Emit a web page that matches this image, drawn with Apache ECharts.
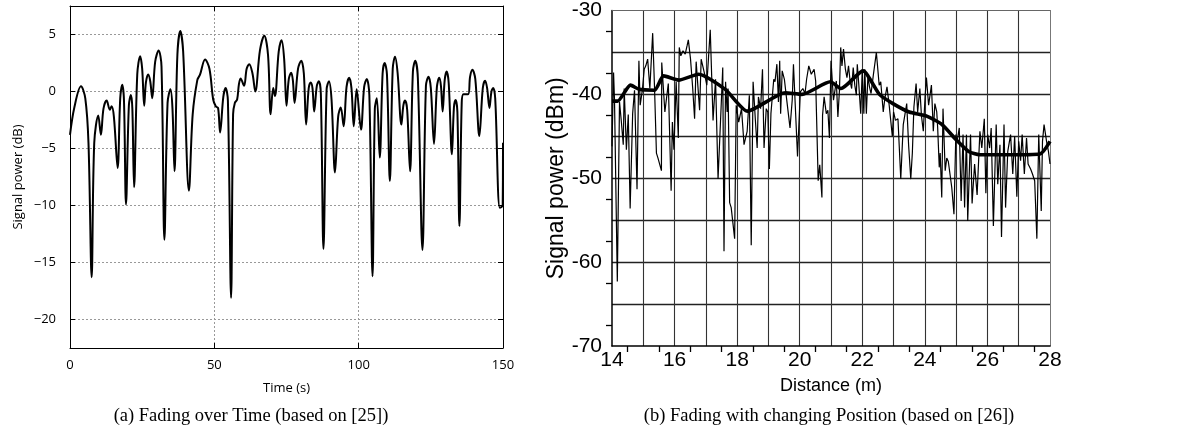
<!DOCTYPE html>
<html>
<head>
<meta charset="utf-8">
<script src="https://cdn.jsdelivr.net/npm/echarts@6/dist/echarts.min.js"></script>
<style>
html,body{margin:0;padding:0;background:#fff;}
#c{width:1191px;height:444px;}
</style>
</head>
<body>
<div id="c"></div>
<script>
// ---- (a) Fading over time ----
const timeS = [0,1.5,3.8,5.3,6.4,7.5,8.4,9.8,10.7,11.6,12.7,13.8,14.4,15.2,16.5,17.4,18.1,18.7,19.4,20.4,21.1,21.6,22.2,23.3,24.3,25.0,25.7,26.3,27.1,27.8,28.5,29.5,30.7,31.7,32.7,33.8,34.8,35.5,36.2,37.2,38.2,39.2,41.2,42.5,44.1,45.0,46.8,48.3,49.6,50.5,51.3,52.0,53.1,53.9,54.7,55.8,56.5,57.1,57.9,58.5,59.1,60.3,61.2,62.1,63.2,64.2,65.8,67.3,68.6,69.5,70.4,71.0,72.3,73.3,74.2,75.0,75.8,76.6,77.2,77.8,79.0,80.1,81.0,81.8,82.7,83.4,84.0,84.6,85.5,86.2,86.9,87.8,88.9,89.7,90.6,91.8,92.9,93.8,94.8,95.8,96.7,97.5,98.3,99.3,100.8,101.9,102.8,103.7,104.8,105.6,106.3,107.3,108.3,109.0,109.8,110.8,111.8,112.6,113.5,114.8,115.5,116.1,116.8,117.8,118.8,119.6,120.5,122.1,123.3,124.2,125.0,126.1,127.1,127.9,128.5,129.1,129.8,130.5,131.2,132.3,133.0,133.6,134.2,134.9,135.7,136.3,137.9,138.6,139.4,140.4,141.8,143.0,143.8,144.5,145.3,146.0,146.6,147.3,148.9,149.9,150];
const powerDb = [-3.8,-1.4,0.45,-0.6,-4.5,-16.3,-4.5,-2.1,-3.8,-1.5,-0.8,-1.6,-1.3,-2.2,-6.7,-0.6,0.6,-0.8,-9.9,-1.2,-0.3,-1.5,-8.4,1.5,3.1,2.0,-1.25,0.8,1.5,0.9,-0.6,2.6,3.6,2.2,-13.0,-1.0,0.2,-1.5,-7.0,3.2,5.3,3.5,-8.7,-2.0,1.0,1.45,2.8,2.0,-0.7,-1.3,-1.45,-3.6,-0.5,0.3,-0.8,-18.1,-2.0,-1.0,-0.7,0.6,1.15,0.5,2.0,2.4,1.6,0,3.6,4.9,3.2,-2.0,0.3,-0.4,3.5,4.5,2.8,-1.25,1.1,1.65,1.0,-1.0,2.0,2.7,1.6,-2.9,0.3,0.8,0.3,-1.75,0.5,0.9,-0.2,-13.8,0.2,0.9,-0.7,-7.1,-2.2,-1.4,-3.05,0.4,1.2,0.3,-3.05,0.2,-3.35,0.4,1.1,-0.3,-16.2,-1.5,-0.6,-5.8,1.6,2.5,1.5,-7.85,2.0,3.05,1.6,-2.9,-1.2,-0.8,-1.6,-7.0,1.8,2.7,1.2,-13.9,0.5,1.3,0.3,-4.6,0.4,1.2,0.5,-1.75,1.0,1.75,0.7,-5.5,-1.4,-0.75,-1.8,-11.8,-1.0,-0.25,-0.25,1.3,1.9,1.1,-3.9,0.3,0.95,0.3,-1.45,0.0,0.3,-0.6,-10.2,-10.0,-4.5];
const timeTicks = [0, 50, 100, 150];

// ---- (b) Fading with changing position ----
const distM = [14.00,14.05,14.08,14.17,14.24,14.30,14.36,14.39,14.46,14.52,14.58,14.66,14.72,14.80,14.86,14.90,14.97,15.03,15.08,15.14,15.21,15.30,15.36,15.42,15.47,15.58,15.59,15.69,15.80,15.89,15.93,15.98,16.05,16.12,16.15,16.20,16.27,16.34,16.40,16.44,16.51,16.58,16.64,16.69,16.80,16.85,16.95,17.03,17.14,17.23,17.31,17.39,17.49,17.54,17.58,17.63,17.68,17.71,17.76,17.81,17.92,17.97,18.05,18.14,18.22,18.32,18.39,18.45,18.51,18.58,18.64,18.68,18.75,18.81,18.86,18.93,18.98,19.03,19.08,19.17,19.21,19.27,19.32,19.36,19.39,19.44,19.51,19.58,19.69,19.76,19.80,19.86,19.93,20.02,20.10,20.17,20.22,20.29,20.37,20.46,20.51,20.59,20.64,20.71,20.73,20.78,20.85,20.90,20.95,21.00,21.08,21.17,21.22,21.27,21.31,21.35,21.40,21.46,21.51,21.56,21.61,21.66,21.71,21.76,21.81,21.84,21.89,21.95,22.00,22.05,22.08,22.13,22.18,22.23,22.28,22.35,22.45,22.54,22.59,22.67,22.72,22.79,22.86,22.96,23.00,23.06,23.14,23.23,23.31,23.42,23.48,23.55,23.60,23.65,23.72,23.77,23.84,23.89,23.95,24.01,24.05,24.12,24.21,24.27,24.32,24.38,24.41,24.46,24.49,24.54,24.58,24.61,24.65,24.70,24.75,24.86,24.93,24.99,25.03,25.10,25.16,25.22,25.27,25.33,25.37,25.46,25.51,25.59,25.67,25.76,25.82,25.90,25.95,26.01,26.07,26.12,26.19,26.28,26.33,26.40,26.45,26.53,26.58,26.65,26.74,26.81,26.87,26.94,27.00,27.06,27.11,27.18,27.25,27.30,27.38,27.44,27.51,27.58,27.64,27.72,27.76,27.81,27.89,27.95,28.00];
const powerDbm = [-46.2,-37.4,-40.7,-62.3,-40.9,-43.3,-46.0,-39.3,-46.6,-42.4,-53.6,-42.3,-39.5,-51.3,-36.0,-41.3,-39.5,-37.0,-36.6,-35.8,-39.3,-32.7,-39.3,-47.0,-47.6,-49.1,-36.2,-42.1,-38.7,-51.5,-43.3,-46.6,-38.5,-45.2,-34.4,-35.4,-34.8,-35.2,-34.2,-33.5,-35.8,-39.3,-42.9,-36.1,-41.9,-35.8,-37.4,-38.9,-32.3,-43.1,-38.2,-50.1,-41.3,-36.8,-58.7,-38.5,-42.1,-39.3,-52.9,-53.5,-57.2,-41.3,-43.3,-41.7,-46.0,-44.4,-40.1,-58.0,-38.5,-42.9,-46.4,-40.3,-41.7,-37.0,-46.4,-41.7,-42.1,-48.9,-42.3,-38.2,-38.5,-36.4,-40.9,-36.0,-42.3,-37.2,-38.2,-40.5,-44.0,-40.7,-36.4,-41.5,-47.4,-39.7,-39.3,-39.9,-38.2,-36.6,-37.6,-37.0,-38.4,-50.3,-48.4,-52.3,-42.5,-40.3,-42.3,-41.9,-45.2,-36.0,-40.7,-38.4,-42.7,-39.5,-34.4,-36.6,-34.6,-37.0,-38.0,-36.6,-38.4,-39.3,-36.8,-38.9,-40.1,-36.4,-38.9,-42.3,-37.0,-42.3,-37.0,-42.3,-37.8,-39.1,-39.9,-37.8,-35.0,-38.9,-38.5,-42.1,-40.5,-39.1,-41.3,-45.0,-42.1,-43.1,-42.9,-50.1,-43.6,-41.1,-46.0,-50.1,-47.0,-41.5,-38.7,-42.1,-39.3,-42.5,-44.4,-40.1,-38.0,-41.3,-38.9,-44.4,-41.1,-42.1,-44.0,-48.7,-47.0,-52.3,-41.7,-41.5,-49.1,-47.6,-48.0,-51.1,-54.3,-44.8,-45.6,-44.0,-52.7,-44.8,-53.5,-44.8,-55.1,-44.8,-53.0,-48.3,-52.0,-44.4,-46.4,-42.9,-51.8,-44.8,-46.4,-44.0,-55.7,-43.6,-50.7,-46.0,-57.0,-43.6,-53.5,-46.8,-44.8,-49.5,-45.0,-52.2,-45.6,-47.9,-44.8,-49.5,-45.2,-48.3,-48.9,-49.5,-50.3,-57.2,-44.8,-53.9,-45.6,-43.6,-45.6,-46.8,-48.3];
const avgDistM = [14.0,14.18,14.59,14.87,15.36,15.65,16.13,16.77,17.62,18.33,19.54,20.07,20.98,21.32,22.02,22.55,22.98,23.5,24.06,24.55,25.0,25.4,25.75,26.62,27.68,28.0];
const avgPowerDbm = [-40.8,-40.8,-38.9,-39.4,-39.5,-37.8,-38.3,-37.6,-39.4,-42.0,-39.8,-40.0,-38.5,-39.3,-37.2,-40.0,-41.1,-42.1,-42.6,-43.6,-45.4,-46.8,-47.2,-47.2,-47.1,-45.6];

const zip = (a, b) => a.map((v, i) => [v, b[i]]);
const minus = v => (v < 0 ? '\u2212' + Math.abs(v) : String(v));

const chart = echarts.init(document.getElementById('c'), null, {renderer: 'canvas'});
const lFont = {fontFamily: 'Open Sans', fontSize: 13, color: '#000'};
const rFam = '"Liberation Sans", Arial, sans-serif';
const rTick = {fontFamily: rFam, fontSize: 21, color: '#000'};
const rXName = {fontFamily: rFam, fontSize: 18, color: '#000'};
const rYName = {fontFamily: rFam, fontSize: 23, color: '#000'};
const capFont = '18.5px "Liberation Serif"';

chart.setOption({
  animation: false,
  backgroundColor: '#fff',
  grid: [
    {left: 70, top: 6, width: 433, height: 342, show: false},
    {left: 612, top: 7, width: 438, height: 339, show: false}
  ],
  xAxis: [
    {gridIndex: 0, type: 'value', min: 0, max: 150, interval: 50, position: 'bottom',
     axisLine: {show: true, onZero: false, lineStyle: {color: '#000', width: 1}},
     axisTick: {show: true, inside: true, length: 5, lineStyle: {color: '#000'}},
     axisLabel: Object.assign({margin: 11}, lFont),
     splitLine: {show: true, showMinLine: false, showMaxLine: false, lineStyle: {color: '#999', type: [2, 2], width: 1}},
     name: 'Time (s)', nameLocation: 'middle', nameGap: 34, nameTextStyle: lFont},
    {gridIndex: 0, type: 'value', min: 0, max: 150, interval: 50, position: 'top',
     axisLine: {show: true, onZero: false, lineStyle: {color: '#000', width: 1}},
     axisTick: {show: true, inside: true, length: 5, lineStyle: {color: '#000'}},
     axisLabel: {show: false}, splitLine: {show: false}},
    {gridIndex: 1, type: 'value', min: 14, max: 28, interval: 1, position: 'bottom',
     axisLine: {show: true, onZero: false, lineStyle: {color: '#000', width: 1.5}},
     axisTick: {show: false},
     minorTick: {show: true, splitNumber: 2, length: 6, lineStyle: {color: '#000', width: 1.3}},
     axisLabel: Object.assign({margin: 4, formatter: v => (v % 2 === 0 ? String(v) : '')}, rTick),
     splitLine: {show: true, showMinLine: false, showMaxLine: false, lineStyle: {color: '#333', width: 1.1}},
     name: 'Distance (m)', nameLocation: 'middle', nameGap: 31, nameTextStyle: rXName},
    {gridIndex: 1, type: 'value', min: 14, max: 28, interval: 1, position: 'top',
     axisLine: {show: true, onZero: false, lineStyle: {color: '#666', width: 1}},
     axisTick: {show: false}, axisLabel: {show: false}, splitLine: {show: false}}
  ],
  yAxis: [
    {gridIndex: 0, type: 'value', min: -22.5, max: 7.5, splitNumber: 6, position: 'left',
     axisLine: {show: true, onZero: false, lineStyle: {color: '#000', width: 1}},
     axisTick: {show: true, inside: true, length: 5, lineStyle: {color: '#000'}},
     axisLabel: Object.assign({margin: 14, showMinLabel: false, showMaxLabel: false, formatter: minus}, lFont),
     splitLine: {show: true, showMinLine: false, showMaxLine: false, lineStyle: {color: '#999', type: [2, 2], width: 1}},
     name: 'Signal power (dB)', nameLocation: 'middle', nameGap: 45, nameTextStyle: lFont},
    {gridIndex: 0, type: 'value', min: -22.5, max: 7.5, splitNumber: 6, position: 'right',
     axisLine: {show: true, onZero: false, lineStyle: {color: '#000', width: 1}},
     axisTick: {show: true, inside: true, length: 5, lineStyle: {color: '#000'}},
     axisLabel: {show: false}, splitLine: {show: false}},
    {gridIndex: 1, type: 'value', min: -70, max: -30, interval: 5, position: 'left',
     axisLine: {show: true, onZero: false, lineStyle: {color: '#000', width: 1.5}},
     axisTick: {show: false},
     minorTick: {show: true, splitNumber: 2, length: 6, lineStyle: {color: '#000', width: 1.3}},
     axisLabel: Object.assign({margin: 10, formatter: v => (v % 10 === 0 ? String(v) : '')}, rTick),
     splitLine: {show: true, showMinLine: false, showMaxLine: false, lineStyle: {color: '#222', width: 1.4}},
     name: 'Signal power (dBm)', nameLocation: 'middle', nameGap: 37, nameTextStyle: rYName},
    {gridIndex: 1, type: 'value', min: -70, max: -30, interval: 5, position: 'right',
     axisLine: {show: true, onZero: false, lineStyle: {color: '#777', width: 1}},
     axisTick: {show: false}, axisLabel: {show: false}, splitLine: {show: false}}
  ],
  series: [
    {type: 'line', xAxisIndex: 0, yAxisIndex: 0, data: zip(timeS, powerDb), showSymbol: false,
     smooth: 0.35, lineStyle: {color: '#000', width: 2}, z: 5},
    {type: 'line', xAxisIndex: 2, yAxisIndex: 2, data: zip(distM, powerDbm), showSymbol: false,
     smooth: false, lineStyle: {color: '#000', width: 1.2}, z: 5},
    {type: 'line', xAxisIndex: 2, yAxisIndex: 2, data: zip(avgDistM, avgPowerDbm), showSymbol: false,
     smooth: 0.2, lineStyle: {color: '#000', width: 3.6}, z: 6}
  ],
  graphic: [
    {type: 'text', x: 251, y: 416, style: {text: '(a) Fading over Time (based on [25])', align: 'center', verticalAlign: 'middle', font: capFont, fill: '#000'}},
    {type: 'text', x: 829, y: 416, style: {text: '(b) Fading with changing Position (based on [26])', align: 'center', verticalAlign: 'middle', font: capFont, fill: '#000'}}
  ]
});
</script>
</body>
</html>
